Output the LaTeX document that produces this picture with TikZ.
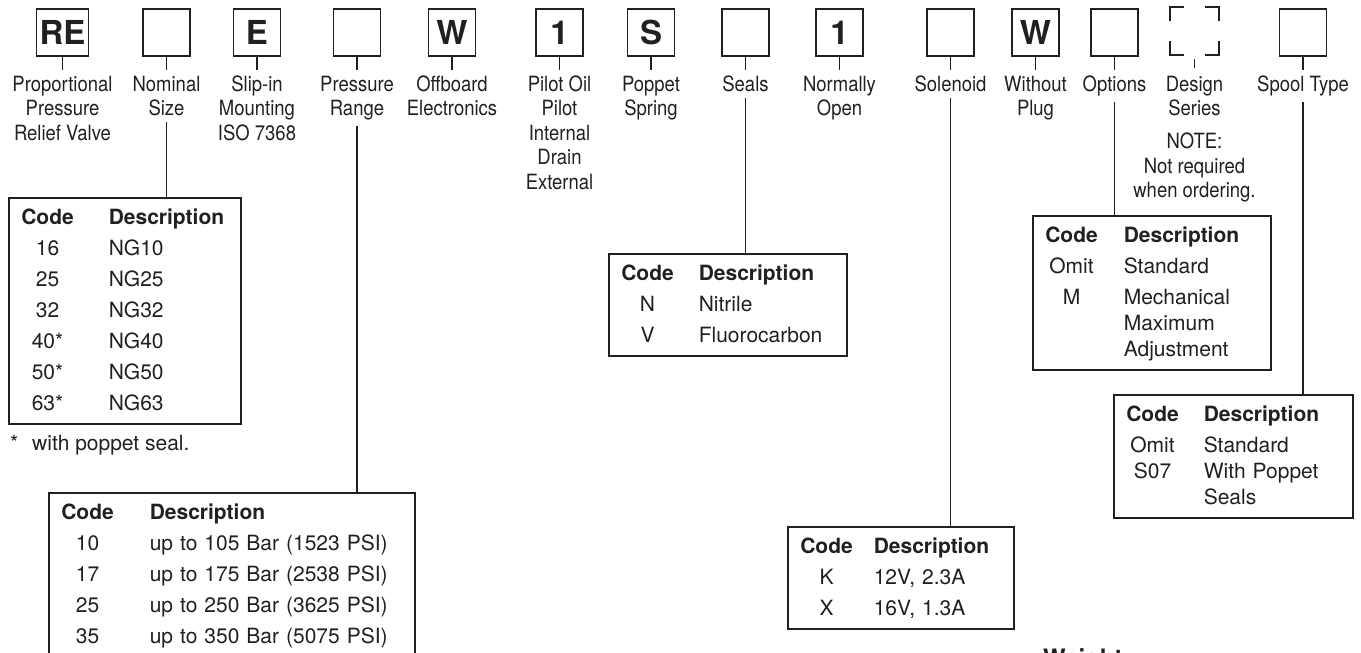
\documentclass[tikz,border=0pt]{standalone}
\usepackage{fontspec}
\setmainfont{TeX Gyre Heros}
\newfontfamily\condfont[FakeStretch=0.88]{TeX Gyre Heros}
\usetikzlibrary{positioning}
\definecolor{ink}{HTML}{231F20}
\tikzset{
letterbox/.style={rectangle, draw=ink, line width=1.8pt, minimum width=47pt, minimum height=47pt, inner sep=0pt, anchor=north, text=ink, font=\fontsize{33}{33}\selectfont\bfseries},
partlabel/.style={align=center, inner sep=0pt, anchor=north, text=ink, font=\condfont\fontsize{21}{24.5}\selectfont},
codetab/.style={draw=ink, line width=1.6pt, anchor=north west, align=left, inner xsep=12.5pt, inner ysep=4.5pt, text=ink, font=\fontsize{21}{31}\selectfont},
stub/.style={draw=ink, line width=1.3pt, shorten >=5.5pt},
line/.style={draw=ink, line width=1.3pt},
}

\begin{document}
\begin{tikzpicture}[x=1pt, y=-1pt]
\clip (0,0) rectangle (1361,653);

% ordering code boxes
\node[letterbox, minimum width=52pt] (re) at (62.5,8) {RE};
\node[letterbox] (size) at (166.5,8) {};
\node[letterbox] (mount) at (257,8) {E};
\node[letterbox] (range) at (357,8) {};
\node[letterbox] (elec) at (452,8) {W};
\node[letterbox] (pilot) at (559.5,8) {1};
\node[letterbox] (spring) at (651,8) {S};
\node[letterbox] (seals) at (745.5,8) {};
\node[letterbox] (open) at (839.5,8) {1};
\node[letterbox] (sol) at (950.5,8) {};
\node[letterbox] (plug) at (1035.5,8) {W};
\node[letterbox] (opt) at (1114.5,8) {};
\node[letterbox, draw=none, minimum height=46pt] (series) at (1194.5,7) {};
\node[letterbox] (spool) at (1303,8) {};

% design series box is only marked at its corners
\draw[ink, line width=1.8pt] ([yshift=-14pt]series.north west) -- (series.north west) -- ([xshift=14pt]series.north west);
\draw[ink, line width=1.8pt] ([xshift=-14pt]series.north east) -- (series.north east) -- ([yshift=-14pt]series.north east);
\draw[ink, line width=1.8pt] ([yshift=14pt]series.south west) -- (series.south west) -- ([xshift=14pt]series.south west);
\draw[ink, line width=1.8pt] ([xshift=-14pt]series.south east) -- (series.south east) -- ([yshift=14pt]series.south east);

% labels
\node[partlabel] (re-txt) at (62.5,75.5) {Proportional\\Pressure\\Relief Valve};
\node[partlabel] (size-txt) at (166.5,75.5) {Nominal\\Size};
\node[partlabel] (mount-txt) at (257,75.5) {Slip-in\\Mounting\\ISO 7368};
\node[partlabel] (range-txt) at (357,75.5) {Pressure\\Range};
\node[partlabel] (elec-txt) at (452,75.5) {Offboard\\Electronics};
\node[partlabel] (pilot-txt) at (559.5,75.5) {Pilot Oil\\Pilot\\Internal\\Drain\\External};
\node[partlabel] (spring-txt) at (651,75.5) {Poppet\\Spring};
\node[partlabel] (seals-txt) at (745.5,75.5) {Seals};
\node[partlabel] (open-txt) at (839.5,75.5) {Normally\\Open};
\node[partlabel] (sol-txt) at (950.5,75.5) {Solenoid};
\node[partlabel] (plug-txt) at (1035.5,75.5) {Without\\Plug};
\node[partlabel] (opt-txt) at (1114.5,75.5) {Options};
\node[partlabel] (series-txt) at (1194.5,75.5) {Design\\Series};
\node[partlabel] (note-txt) at (1194.5,133) {NOTE:\\Not required\\when ordering.};
\node[partlabel] (spool-txt) at (1303,75.5) {Spool Type};

\foreach \n in {re,size,mount,range,elec,pilot,spring,seals,open,sol,plug,opt,spool}
  \path[stub] (\n.south) -- (\n-txt);
\path[stub, shorten >=7.5pt] ([yshift=-4pt]series.south) -- (series-txt);

% code tables
\node[codetab, text width=207pt] (size-tab) at (8,197) {%
\begin{tabular}{@{}c@{\hspace{35pt}}l@{}}
\textbf{Code} & \textbf{Description}\\
16 & NG10\\
25 & NG25\\
32 & NG32\\
40* & NG40\\
50* & NG50\\
63* & NG63
\end{tabular}};
\node[anchor=base west, inner sep=0pt, text=ink, font=\fontsize{21}{25}\selectfont] (star-note) at (10,450) {\makebox[22pt][l]{*}with poppet seal.};

\node[codetab, text width=341pt] (range-tab) at (48,492) {%
\begin{tabular}{@{}c@{\hspace{36pt}}l@{}}
\textbf{Code} & \textbf{Description}\\
10 & up to 105 Bar (1523 PSI)\\
17 & up to 175 Bar (2538 PSI)\\
25 & up to 250 Bar (3625 PSI)\\
35 & up to 350 Bar (5075 PSI)
\end{tabular}};

\node[codetab, text width=213pt] (seals-tab) at (608,253) {%
\begin{tabular}{@{}c@{\hspace{25pt}}l@{}}
\textbf{Code} & \textbf{Description}\\
N & Nitrile\\
V & Fluorocarbon
\end{tabular}};

\node[codetab, text width=201pt] (sol-tab) at (787,526) {%
\begin{tabular}{@{}c@{\hspace{21pt}}l@{}}
\textbf{Code} & \textbf{Description}\\
K & 12V, 2.3A\\
X & 16V, 1.3A
\end{tabular}};

\node[codetab, text width=213pt] (opt-tab) at (1032,215) {%
\begin{tabular}{@{}c@{\hspace{26pt}}l@{}}
\textbf{Code} & \textbf{Description}\\
Omit & Standard\\
M & Mechanical\\[-5pt]
 & Maximum\\[-5pt]
 & Adjustment
\end{tabular}};

\node[codetab, text width=214pt] (spool-tab) at (1113,394) {%
\begin{tabular}{@{}c@{\hspace{25pt}}l@{}}
\textbf{Code} & \textbf{Description}\\
Omit & Standard\\[-5pt]
S07 & With Poppet\\[-5pt]
 & Seals
\end{tabular}};

\node[anchor=north west, inner sep=0pt, text=ink, font=\fontsize{24}{24}\selectfont\bfseries] (weight) at (1043,648) {Weight};

% connectors to the tables
\path[line] ([yshift=-6pt]size-txt.south) -- (size-txt.south |- size-tab.north);
\path[line] ([yshift=-6pt]range-txt.south) -- (range-txt.south |- range-tab.north);
\path[line] ([yshift=-6pt]seals-txt.south) -- (seals-txt.south |- seals-tab.north);
\path[line] ([yshift=-6pt]sol-txt.south) -- (sol-txt.south |- sol-tab.north);
\path[line] ([yshift=-6pt]opt-txt.south) -- (opt-txt.south |- opt-tab.north);
\path[line] ([yshift=-6pt]spool-txt.south) -- (spool-txt.south |- spool-tab.north);
\end{tikzpicture}
\end{document}
